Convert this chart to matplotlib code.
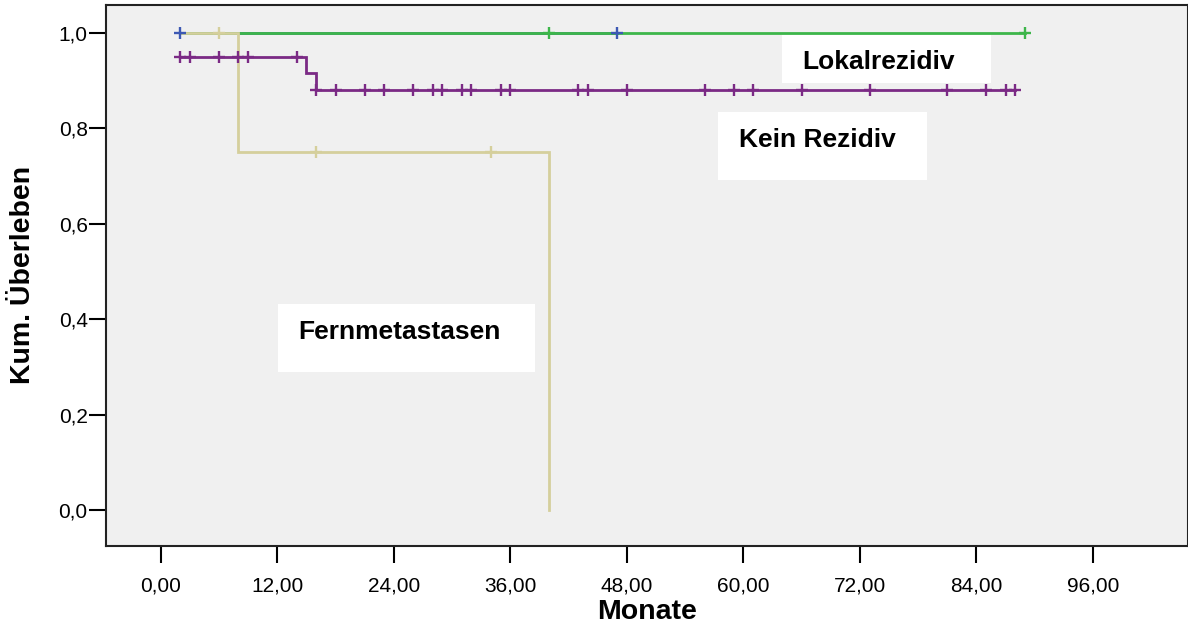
import numpy as np
import matplotlib
matplotlib.use("Agg")
import matplotlib.pyplot as plt
from matplotlib.patches import Rectangle

# Kaplan-Meier step curves (time in months, cumulative survival after each time)
kein_t = [2, 15, 16, 88]
kein_s = [0.95, 0.915, 0.88, 0.88]
kein_cens = [2, 3, 6, 8, 9, 14, 16, 18, 21, 23, 26, 28, 29, 31, 32, 35, 36,
             43, 44, 48, 56, 59, 61, 66, 73, 81, 85, 87, 88]

lokal_t = [2, 89]
lokal_s = [1.0, 1.0]
lokal_cens = [40, 89]

fern_t = [2, 8, 40]
fern_s = [1.0, 0.75, 0.0]
fern_cens = [6, 16, 34]

blue_t = [2, 47]
blue_s = [1.0, 1.0]
blue_cens = [2, 47]

group_labels = ["Lokalrezidiv", "Kein Rezidiv", "Fernmetastasen"]
x_ticks = [0, 12, 24, 36, 48, 60, 72, 84, 96]
y_ticks = [0.0, 0.2, 0.4, 0.6, 0.8, 1.0]

PURPLE = "#7b2a85"
GREEN = "#3db64a"
TAN = "#d5cf9c"
BLUE = "#3d59b3"
BG = "#f0f0f0"

plt.rcParams["font.family"] = ["Liberation Sans", "DejaVu Sans"]

fig = plt.figure(figsize=(11.88, 6.32), dpi=100)
ax = fig.add_axes([0.0896, 0.1364, 0.9102, 0.8549])
ax.set_facecolor(BG)


def surv_at(ts, ss, t):
    idx = np.searchsorted(ts, t, side="right") - 1
    return ss[max(idx, 0)]


def draw_curve(ts, ss, color, zorder, lw=2.0):
    ax.step(ts, ss, where="post", color=color, lw=lw, zorder=zorder,
            solid_joinstyle="miter")


def draw_censors(ts, ss, cens, color, zorder):
    ys = [surv_at(ts, ss, c) for c in cens]
    ax.plot(cens, ys, linestyle="none", marker="+", markersize=9,
            markeredgewidth=1.7, color=color, zorder=zorder)


draw_curve(blue_t, blue_s, BLUE, 2)
draw_curve(lokal_t, lokal_s, GREEN, 3)
draw_curve(fern_t, fern_s, TAN, 4)
draw_curve(kein_t, kein_s, PURPLE, 5)

draw_censors(lokal_t, lokal_s, lokal_cens, GREEN, 6)
draw_censors(fern_t, fern_s, fern_cens, TAN, 6)
draw_censors(kein_t, kein_s, kein_cens, PURPLE, 6)
draw_censors(blue_t, blue_s, blue_cens, BLUE, 7)

# white label boxes with group names
boxes = [
    ((63.98, 0.894), 85.5 - 63.98, 0.9952 - 0.894, (66.04, 0.9233)),
    ((57.39, 0.6915), 78.91 - 57.39, 0.8339 - 0.6915, (59.55, 0.7612)),
    ((12.08, 0.2898), 38.54 - 12.08, 0.431 - 0.2898, (14.17, 0.3576)),
]
for label, (xy, w, h, txy) in zip(group_labels, boxes):
    ax.add_patch(Rectangle(xy, w, h, facecolor="white", edgecolor="none",
                           zorder=8))
    ax.text(txy[0], txy[1], label, fontsize=19, fontweight="bold",
            ha="left", va="baseline", zorder=9, color="black")

ax.set_xlim(-5.59, 105.76)
ax.set_ylim(-0.075, 1.057)

ax.set_xticks(x_ticks)
ax.set_xticklabels([f"{v:.2f}".replace(".", ",") for v in x_ticks])
ax.set_yticks(y_ticks)
ax.set_yticklabels([f"{v:.1f}".replace(".", ",") for v in y_ticks])

ax.tick_params(axis="both", direction="out", length=12, width=1.5,
               labelsize=15, colors="black")
ax.tick_params(axis="x", pad=10)
ax.tick_params(axis="y", pad=1.5)

for sp in ax.spines.values():
    sp.set_linewidth(1.5)
    sp.set_color("#222222")

ax.set_xlabel("Monate", fontsize=20.5, fontweight="bold")
ax.set_ylabel("Kum. Überleben", fontsize=20.5, fontweight="bold")
ax.xaxis.set_label_coords(0.5, -0.1225)
ax.xaxis.label.set_va("center")
ax.yaxis.set_label_coords(-0.0771, 0.501)
ax.yaxis.label.set_va("center")

fig.savefig("out.png", dpi=100, facecolor="white")
